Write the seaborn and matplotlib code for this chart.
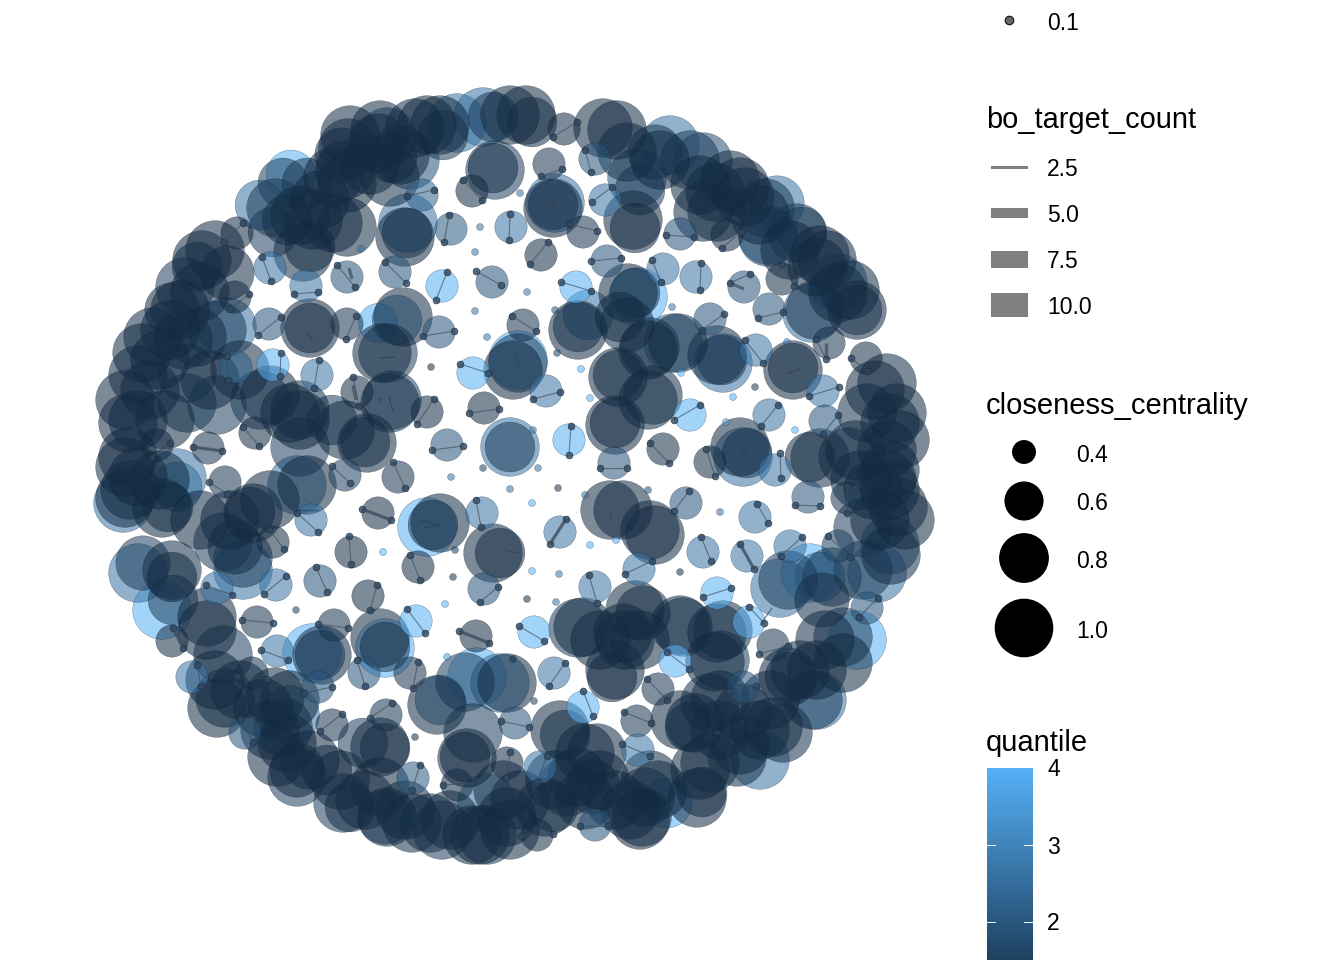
import pandas as pd
import numpy as np
import matplotlib
matplotlib.use('Agg')
import matplotlib.pyplot as plt
from matplotlib.colors import LinearSegmentedColormap
import seaborn as sns

# big nodes (x, y in image pixels)
big_x = [291,283,260,276,273,307,348,342,378,427,415,457,443,483,493,387,410,390,333,347,392,313,333,347,303,310,287,407,405,408,493,495,
         202,197,185,227,200,180,172,217,227,183,153,197,142,138,187,150,187,217,128,138,128,125,138,177,
         260,290,300,332,300,367,365,390,392,310,310,403,397,382,388,378,518,518,513,
         526,532,603,617,627,670,655,690,703,640,633,635,637,553,553,555,715,703,717,740,745,765,777,768,768,797,802,827,817,838,815,838,857,857,812,
         578,578,588,628,635,638,620,627,648,650,673,678,717,722,723,793,793,618,618,648,653,615,615,747,740,743,510,510,
         887,897,867,890,887,848,820,810,887,873,898,890,863,891,890,863,877,843,857,843,832,822,820,810,788,780,
         790,788,817,817,813,717,723,720,715,683,680,635,643,625,623,615,612,583,578,610,623,650,655,560,565,585,597,695,690,710,743,720,737,710,760,773,783,702,697,667,645,630,642,658,600,577,567,593,545,553,
         125,123,162,168,177,223,253,250,243,235,243,143,138,172,172,173,162,207,207,223,307,297,440,433,427,500,493,322,320,312,385,380,385,
         225,217,275,263,437,440,465,477,507,500,473,467,465,283,290,287,277,297,297,327,350,343,385,380,363,387,385,380,412,442,430,472,487,507,487,503]
big_y = [175,183,205,208,232,183,148,155,143,125,128,123,135,117,117,137,160,177,177,183,158,220,223,227,252,247,220,233,237,223,168,170,
         260,267,287,273,292,310,310,330,327,340,337,337,353,375,373,390,403,405,423,420,457,467,477,478,
         400,413,410,420,447,443,442,403,400,328,328,317,320,353,353,323,363,360,370,
         115,122,128,130,152,145,152,160,162,190,220,228,178,205,208,203,192,212,212,187,197,208,203,237,235,233,232,260,267,283,310,293,310,310,313,
         327,330,315,293,293,297,317,325,350,347,343,343,355,360,363,368,370,377,375,400,395,425,423,453,447,457,447,447,
         383,413,413,423,450,457,458,457,480,490,507,490,528,555,545,570,573,637,640,663,577,600,577,573,580,588,
         677,677,670,700,700,633,630,660,662,627,625,610,613,640,633,670,677,627,628,510,510,530,535,730,735,753,753,723,727,703,713,730,757,763,760,727,733,792,798,803,797,810,817,790,780,777,787,787,807,807,
         498,503,508,507,487,542,513,512,558,547,570,563,573,570,577,600,610,617,630,655,485,485,523,525,527,553,553,655,655,653,647,638,648,
         698,708,697,708,705,700,682,677,683,683,733,758,757,727,715,743,757,777,770,770,807,803,748,747,743,817,817,787,823,830,823,835,835,817,803,790]
big_c = [.8,.8,.8,1,.8,.8,1,.9,1,1,1,1,.8,1,.8,1,1,1,1,1,.8,1,1,1,1,.8,.8,.8,1.2,1,.8,1.1,
         1,.8,1,.9,1,1.1,.9,1,1.05,1,1,1,1.05,1,1.05,1,1.1,1,1,1,1.05,1,1.05,1,
         1.05,1.1,1,.8,1.2,1.2,.8,1,1,1.2,.8,1,.8,1.2,1,.6,1,1.1,1.05,
         1.05,.8,1,1,1,1,.9,1,1,.8,1.2,.8,1,.8,1.2,1.1,1,1,1,1.05,1,1,.9,1,1.2,1.05,.8,1,1,1,1,1,1.05,.8,1.05,
         .8,1,.8,1,.8,1.05,.8,.9,1,1,1,1,1,.8,1.1,.8,1.2,1,.8,1,1.1,1.2,.8,.8,1,1.2,.8,1.2,
         1,1,1,1,1.1,1,1,.8,1,1,1,1,1,1,1.05,1,1.05,1,1.05,1,1.05,.9,.8,1,1,1,
         .8,1.2,1,1,1.05,1.05,1,1.05,1,1,1.05,1,.9,1.05,1,1,.8,1.05,1.1,1,1,1,1.2,1,.8,1,1,1.2,.8,1,1,1,1,1,1,1.05,1.05,.8,1.1,.8,1.1,1,1,1,1,1.05,1,.9,1,.8,
         1,1,1,.8,.8,1,1,.8,1,.9,1.05,.9,1,1,.8,.8,1,1,1,1,1.05,1,1,.8,1,.8,1.1,1.05,.8,1,.8,1,1.2,
         1,1,1,1,1.1,.8,1,1,1,1.05,1,1.05,.8,1,1,1,1,1,.9,.8,.8,1,.8,1,.8,1,.9,1,1,1,1,1,1,1,1,1]
big_q = [4,1.4,2.6,1.4,1.4,1.4,1,1,1,1,1.1,2.6,1.4,2.6,1.4,1.9,1.9,1.1,1,1,1,1,1,1,1.1,1,1.1,1.4,1,2.6,1.1,1.4,
         1,1.1,1.4,1,1.1,1,1,1.4,2.6,1.1,1.1,1.1,1,1,1.4,1,1.4,1.4,1,1,1,1,1,2.6,
         1.4,1,1.1,1.4,1.4,1,1.1,1.1,1.4,1,1,1,2.6,1,1.4,4,1.4,4,1,
         1,1.1,1,1,1.1,2.6,1.4,1.4,1.8,1.4,1,1,1.9,1.4,1,2.6,1.1,1,1.1,1,1,1.4,2.6,1.4,2.6,1.4,1.4,1,1,2.6,1.1,1,1,1.4,2.6,
         1.4,1,2.6,1,1.4,4,1,1.1,1,1.4,2.6,1,1.1,1.4,2.6,1.1,1,1,1.1,1.1,1.1,1,1,1.4,1,2.6,1.4,2.6,
         1,1,1.1,1.1,1.1,1.1,1.1,1,1,1,1,1,1.4,1.1,1.9,1.4,2.6,1.4,4,1,1.4,1.1,2.6,4,1.4,2.6,
         1.1,1,1,2.6,1.4,1,1.1,1.4,1,1.1,1.1,1,1,1.1,1,1,1,1,1.4,1,1,1,1,1,1.1,1,1,1,1.1,1.1,1,1.1,1.1,1,2.6,1,1.1,1,1,4,1.4,1,1,1.1,1,1,1.4,1,1,1.1,
         1.1,2.6,1,1.1,2.6,1.4,1,1,1.4,1.1,2.6,1.4,2.6,1.1,1,1.4,4,1,1,1.4,1,2.6,1,1.4,4,1,1,1.1,1.4,4,1.4,1,4,
         1.1,1,1,1,1,2.6,1.4,4,1,2.6,1.4,1,1,1.4,2.6,1,1,1.4,1,1,1.1,1.4,1,1,1.4,1.1,1.4,1,1.1,1.4,1.1,1,1.4,1,2.6,1]

# dark nodes that crowd the rim, all in the lowest colour
rim_x = [215,170,160,125,165,210,240,270,300,345,130,160,200,230,270,
         300,320,345,370,400,440,510,380,350,
         660,700,730,760,790,820,850,875,900,890,905,880,860,855,
         800,825,770,740,700,720,680,650,615,585,640,600,640,760,
         510,480,450,405,365,340,310,270,290,240,215,520,555]
rim_y = [250,330,360,400,420,380,370,395,420,430,490,480,520,520,500,
         215,200,170,165,155,125,115,130,135,
         160,185,180,215,250,255,290,390,440,470,520,520,480,450,
         670,640,700,745,770,700,720,780,800,800,640,640,820,730,
         830,835,820,810,800,780,760,730,700,690,680,800,780]

# two-node communities: circle centre, colour value, both node positions
pair_x = [472,422,451,511,395,347,442,492,306,270,237,235,269,347,439,473,273,317,236,357,427,484,447,255,208,157,398,225,345,
          564,549,595,605,583,541,607,680,727,663,696,744,782,769,576,523,710,756,829,866,546,823,690,769,569,663,614,710,825,775,
          378,482,311,351,418,273,320,368,484,276,257,334,416,476,172,277,410,364,318,192,252,332,386,245,413,507,515,457,217,
          686,755,808,560,703,747,639,790,595,717,534,749,554,583,658,637,675,638,867,773,743,595,537,540,838,847]
pair_y = [191,195,229,227,272,277,286,282,286,268,233,297,324,324,332,373,365,375,367,392,412,408,445,433,448,445,477,482,475,
          129,164,159,200,232,255,261,234,235,269,277,287,279,309,287,325,319,350,343,358,391,391,415,415,440,449,463,462,421,470,
          513,513,520,552,567,542,581,596,589,585,622,625,621,636,641,651,673,673,687,677,673,725,715,733,778,763,723,785,588,
          503,517,497,532,552,556,569,546,587,593,632,622,673,707,689,721,661,750,608,645,687,825,835,767,546,498]
pair_q = [1,2.2,2,2.6,1.9,1.9,4,1.9,2.6,2.6,1,1,1.9,1.2,1.9,4,4,2.6,2.2,1,1,1,1.9,1,1.2,1,1.2,1.2,1.5,
          1,1.2,1.9,2.6,1.2,1,1.9,1.9,1,2.6,2.6,1.9,1,1.9,4,1.2,1.9,2.6,1.2,1,2.6,2.6,4,2.6,4,1,1.9,1,1.9,2.6,
          1,2.6,2.6,1,1,1,1.9,1,1.9,2.6,1.2,1.2,4,1,1,2.6,1.2,1.9,1.9,2.6,1.1,1.2,1.2,1.9,2,1,1.9,1,2.6,
          1.9,2.6,1.9,2.6,2.6,2.6,2.6,2.6,2.6,4,4,4,2.6,4,1.2,1.2,4,2.6,1.9,1.2,1.9,1.9,1,2.6,1.5,1.2]
pair_ax = [463,407,449,510,385,337,447,476,294,262,243,249,281,356,423,460,281,319,227,353,434,469,432,243,193,170,393,209,332,
           577,562,585,612,569,548,591,666,722,652,701,730,782,758,561,512,702,745,816,851,533,809,674,778,571,650,600,706,838,780,
           362,476,297,349,410,269,316,377,498,286,242,318,407,459,173,261,418,357,304,197,237,342,392,240,420,510,501,443,206,
           689,757,795,566,701,740,652,802,589,731,519,749,565,583,647,624,667,622,878,788,729,580,521,547,828,847]
pair_ay = [180,196,215,214,262,265,272,271,294,257,223,294,317,316,336,364,353,360,356,377,399,413,450,427,447,443,462,482,466,
           122,169,150,187,224,242,261,235,248,260,263,283,264,318,282,316,330,340,339,358,399,396,420,405,426,443,468,449,415,453,
           509,500,513,536,555,529,567,585,587,576,620,624,609,631,628,650,662,660,693,665,676,714,703,719,765,752,721,785,585,
           491,504,505,519,537,544,561,537,575,588,626,607,663,691,679,712,652,744,598,646,691,826,836,756,536,486]
pair_bx = [482,434,444,509,406,355,436,501,318,271,224,230,258,346,454,488,280,314,228,359,417,499,463,259,222,152,405,227,350,
           553,541,591,592,597,530,621,694,741,661,700,750,794,783,591,536,724,763,826,867,560,839,700,761,569,669,627,715,823,781,
           391,481,318,351,420,284,327,370,480,264,273,348,425,489,183,288,413,365,332,201,267,320,370,253,412,506,529,472,232,
           674,768,820,550,711,754,625,781,597,703,544,764,549,593,667,651,689,650,859,759,756,608,553,537,850,847]
pair_by = [200,190,242,240,283,287,300,285,292,281,242,309,335,339,331,373,376,388,380,406,424,409,446,446,451,457,488,494,483,
           137,176,172,202,231,264,258,237,232,282,290,274,286,312,291,331,314,363,359,371,392,387,405,426,455,463,468,476,434,478,
           520,527,532,564,580,549,592,610,602,594,623,628,633,643,648,660,688,686,687,686,679,731,718,742,790,778,727,783,595,
           511,523,506,544,561,569,574,556,603,597,641,623,686,716,700,723,669,756,617,654,686,826,834,782,557,513]

# pairs whose link is drawn thick
thick_x0 = [349,378,362,459,173,193,566,553,730,740,546,826,353]
thick_y0 = [268,398,509,631,628,447,519,196,283,544,204,343,385]
thick_x1 = [352,381,391,489,183,222,550,558,744,754,560,826,356]
thick_y1 = [279,401,520,643,648,451,544,212,289,569,210,359,400]

# short links in the middle of big nodes
dash_x0 = [551,516,389,788,741,313,380,425,220,505,300,635,420,760,610]
dash_y0 = [200,357,397,374,447,342,358,528,706,550,510,330,520,625,512]
dash_x1 = [558,521,393,801,747,307,395,440,228,518,318,642,440,772,612]
dash_y1 = [212,370,412,368,458,332,357,524,698,553,510,340,525,608,520]

# nodes with no partner
single_x = [480,475,475,487,431,361,451,483,527,555,557,581,590,755,733,726,795,533,538,672,681,520,787,
            510,455,383,453,445,296,447,415,513,558,532,585,590,616,532,559,680,527,556,720,534,648]
single_y = [227,252,311,337,367,249,477,468,292,310,353,369,398,387,397,422,430,430,468,307,373,193,342,
            489,550,552,577,604,610,657,737,659,488,503,495,545,540,571,574,572,599,602,512,701,490]
single_q = [2.6,2.6,2.6,2.6,1,2.6,2.6,1.5,2.6,1.9,1.5,4,4,1.2,4,3.5,4,2.6,2.6,2.6,4,2.6,2.6,
            2.6,1.5,4,1.2,4,1.5,3.5,1.2,1.2,1.2,4,2.6,4,4,4,2.6,1.2,1.2,2.6,2.6,1.5,1.9]

# legends
node_labels = ['0.1']
target_labels = ['2.5', '5.0', '7.5', '10.0']
target_key_y = [167, 213, 259, 305]
target_key_h = [3, 10, 17, 24]
closeness_vals = [0.4, 0.6, 0.8, 1.0]
closeness_labels = ['0.4', '0.6', '0.8', '1.0']
closeness_key_y = [452, 501, 558, 628]
closeness_text_y = [455, 504, 561, 631]
quantile_labels = ['4', '3', '2']
quantile_vals = [4, 3, 2]

sns.set_theme(style='white')
plt.rcParams['font.family'] = ['Liberation Sans', 'DejaVu Sans']

low_high = LinearSegmentedColormap.from_list('q', ['#132B43', '#56B1F7'])

fig, ax = plt.subplots(figsize=(13.44, 9.6), dpi=100)
fig.subplots_adjust(0, 0, 1, 1)

size_range = (25, 1780)
size_norm = (0.29, 1.0)

# light big circles go underneath the dark ones
big = pd.DataFrame({
    'x': big_x + rim_x,
    'y': big_y + rim_y,
    'closeness': big_c + [1.0] * len(rim_x),
    'quantile': big_q + [1.0] * len(rim_x),
}).sort_values('quantile', ascending=False, kind='stable')
small = pd.DataFrame({
    'x': pair_x + single_x,
    'y': pair_y + single_y,
    'closeness': [0.5] * len(pair_x) + [0.29] * len(single_x),
    'quantile': pair_q + single_q,
})
circles = pd.concat([big, small], ignore_index=True)
sns.scatterplot(data=circles, x='x', y='y', hue='quantile', size='closeness', palette=low_high,
                hue_norm=(1, 4), sizes=size_range, size_norm=size_norm, alpha=0.55,
                linewidth=0.3, edgecolor='#10202f', legend=False, ax=ax)

# links
for x0, y0, x1, y1 in zip(pair_ax, pair_ay, pair_bx, pair_by):
    ax.plot([x0, x1], [y0, y1], color='#3a4a5a', lw=0.8, alpha=0.65, solid_capstyle='butt')
for x0, y0, x1, y1 in zip(thick_x0, thick_y0, thick_x1, thick_y1):
    ax.plot([x0, x1], [y0, y1], color='#3a4a5a', lw=2.4, alpha=0.65, solid_capstyle='butt')
for x0, y0, x1, y1 in zip(dash_x0, dash_y0, dash_x1, dash_y1):
    ax.plot([x0, x1], [y0, y1], color='#2b3c4e', lw=0.9, alpha=0.6, solid_capstyle='butt')

nodes = pd.DataFrame({'x': pair_ax + pair_bx, 'y': pair_ay + pair_by})
sns.scatterplot(data=nodes, x='x', y='y', color='#2d4763', s=24, alpha=0.8,
                linewidth=0.5, edgecolor='#1c2a38', legend=False, ax=ax)

# legend: node size
sns.scatterplot(x=[1009], y=[20], color='#555555', s=38, alpha=0.9, linewidth=0.8,
                edgecolor='black', legend=False, ax=ax)
ax.text(1047, 24, node_labels[0], fontsize=16.5, va='center', color='black')

# legend: link width
ax.text(986, 120, 'bo_target_count', fontsize=20.9, va='center', color='black')
for y, h, lab in zip(target_key_y, target_key_h, target_labels):
    ax.fill_between([991, 1028], y - h / 2, y + h / 2, color='#808080', linewidth=0)
    ax.text(1047, y + 2, lab, fontsize=16.5, va='center', color='black')

# legend: closeness
ax.text(986, 406, 'closeness_centrality', fontsize=21, va='center', color='black')
key_df = pd.DataFrame({'x': [1024] * 4, 'y': closeness_key_y, 'closeness': closeness_vals})
sns.scatterplot(data=key_df, x='x', y='y', size='closeness', sizes=size_range, size_norm=size_norm,
                color='black', linewidth=0, legend=False, ax=ax)
for y, lab in zip(closeness_text_y, closeness_labels):
    ax.text(1076, y, lab, fontsize=16.5, va='center', color='black')

# legend: colourbar, clipped by the bottom of the image
ax.text(986, 743, 'quantile', fontsize=21, va='center', color='black')
bar_vals = np.linspace(4, 1.5, 200).reshape(-1, 1)
ax.imshow(bar_vals, cmap=low_high, vmin=1, vmax=4, extent=(987, 1033, 960, 768), aspect='auto', zorder=2)
for val, lab in zip(quantile_vals, quantile_labels):
    y = 768 + (4 - val) * 77
    ax.text(1047, y + 2, lab, fontsize=16.5, va='center', color='black')
    if val < 4:
        ax.plot([987, 995], [y, y], color='white', lw=0.7, zorder=3)
        ax.plot([1024, 1033], [y, y], color='white', lw=0.7, zorder=3)

ax.set_xlim(0, 1344)
ax.set_ylim(960, 0)
ax.axis('off')

fig.savefig('out.png', dpi=100)
